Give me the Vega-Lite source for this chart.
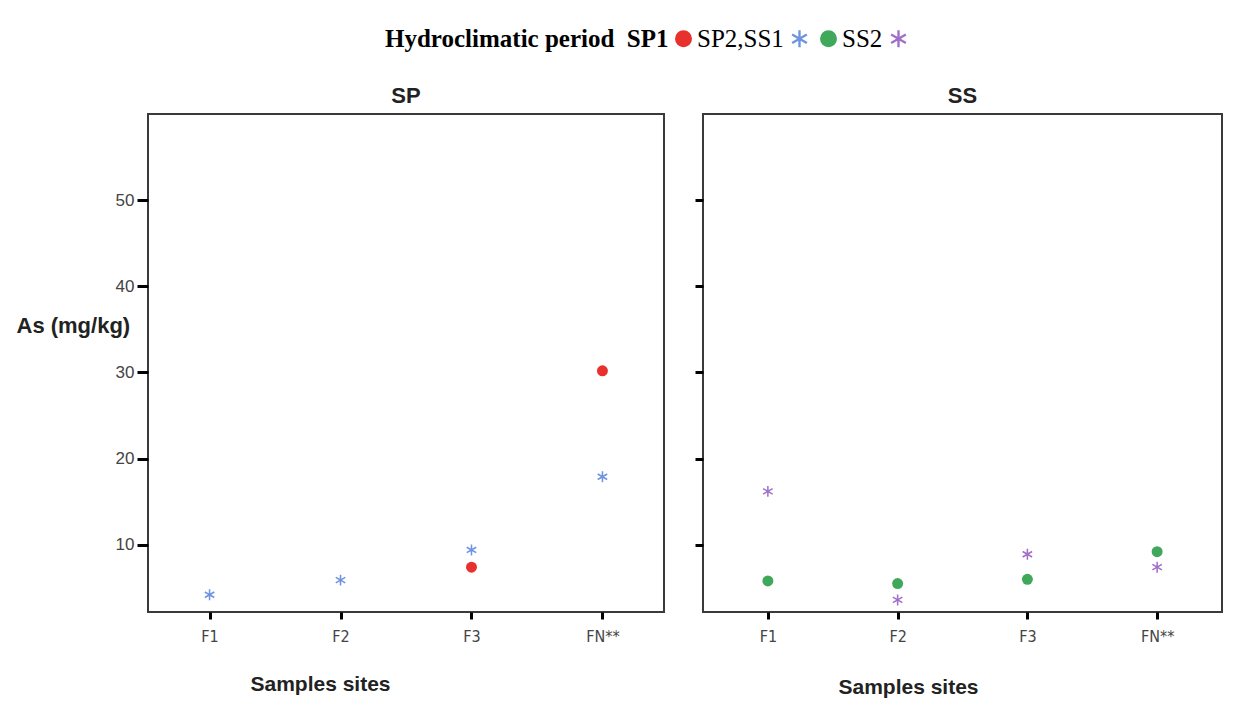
{
  "$schema": "https://vega.github.io/schema/vega-lite/v6.json",
  "background": "white",
  "padding": {"left": 15, "top": 26, "right": 5, "bottom": 5},
  "spacing": 27,
  "datasets": {
    "pts": [
      {"panel": "SP", "site": "F1", "series": "SP2", "value": 4.2},
      {"panel": "SP", "site": "F2", "series": "SP2", "value": 5.9},
      {"panel": "SP", "site": "F3", "series": "SP2", "value": 9.4},
      {"panel": "SP", "site": "F3", "series": "SP1", "value": 7.4},
      {"panel": "SP", "site": "FN**", "series": "SP2", "value": 17.9},
      {"panel": "SP", "site": "FN**", "series": "SP1", "value": 30.2},
      {"panel": "SS", "site": "F1", "series": "SS2", "value": 16.2},
      {"panel": "SS", "site": "F1", "series": "SS1", "value": 5.8},
      {"panel": "SS", "site": "F2", "series": "SS1", "value": 5.5},
      {"panel": "SS", "site": "F2", "series": "SS2", "value": 3.6},
      {"panel": "SS", "site": "F3", "series": "SS2", "value": 8.9},
      {"panel": "SS", "site": "F3", "series": "SS1", "value": 6.0},
      {"panel": "SS", "site": "FN**", "series": "SS1", "value": 9.2},
      {"panel": "SS", "site": "FN**", "series": "SS2", "value": 7.4}
    ]
  },
  "data": {"name": "pts"},
  "config": {
    "view": {"stroke": "#3a3a3a", "strokeWidth": 2},
    "title": {"font": "Liberation Sans", "fontSize": 22, "fontWeight": "bold", "color": "#222", "offset": 6},
    "axis": {
      "domain": false, "grid": false,
      "tickColor": "black", "tickWidth": 3,
      "labelColor": "#444", "labelFont": "Liberation Sans", "labelFontSize": 17,
      "titleFont": "Liberation Sans", "titleFontWeight": "bold", "titleFontSize": 21, "titleColor": "#222"
    },
    "legend": {
      "orient": "none", "legendX": 237, "legendY": -88, "direction": "horizontal",
      "titleOrient": "left", "titleLimit": 600,
      "titleFont": "Liberation Serif", "titleFontSize": 25, "titleFontWeight": "bold", "titleColor": "black", "titlePadding": 2,
      "labelFont": "Liberation Serif", "labelFontSize": 25, "labelColor": "black", "labelOffset": 1, "columnPadding": 3,
      "symbolSize": 289, "symbolStrokeWidth": 0
    }
  },
  "hconcat": [
    {
      "title": "SP",
      "width": 516,
      "height": 498,
      "transform": [{"filter": "datum.panel === 'SP'"}],
      "mark": {"type": "point", "filled": true, "opacity": 1, "size": 120},
      "encoding": {
        "x": {
          "field": "site", "type": "ordinal",
          "scale": {"type": "point", "domain": ["F1", "F2", "F3", "FN**"], "padding": 0.47},
          "axis": {"title": "Samples sites", "labelAngle": 0, "tickSize": 7, "labelPadding": 9, "labelFont": "DejaVu Sans Condensed", "labelFontSize": 16,
                   "titleX": 172, "titleY": 72, "titleAlign": "center", "titleBaseline": "middle"}
        },
        "y": {
          "field": "value", "type": "quantitative",
          "scale": {"domain": [2.2, 60], "nice": false, "zero": false},
          "axis": {"values": [10, 20, 30, 40, 50], "tickSize": 11, "labelPadding": 3, "title": "As (mg/kg)", "titleFontSize": 22,
                   "titleAngle": 0, "titleAlign": "left", "titleBaseline": "middle", "titleX": -132, "titleY": 211}
        },
        "color": {
          "field": "series", "type": "nominal",
          "scale": {"domain": ["SP1", "SP2", "SS1", "SS2"], "range": ["#e8302c", "#6f93e0", "#3fa85a", "#a070c8"]},
          "legend": {
            "title": "Hydroclimatic period\u00a0\u00a0SP1",
            "labelExpr": "datum.label === 'SP1' ? 'SP2,SS1' : datum.label === 'SS1' ? 'SS2' : ''"
          }
        },
        "shape": {
          "field": "series", "type": "nominal",
          "scale": {"domain": ["SP1", "SP2", "SS1", "SS2"], "range": [
            "circle",
            "M-0.14,1L0.14,1L0.14,-1L-0.14,-1Z M0.796,0.621L0.936,0.379L-0.796,-0.621L-0.936,-0.379Z M-0.936,0.379L-0.796,0.621L0.936,-0.379L0.796,-0.621Z",
            "circle",
            "M-0.14,1L0.14,1L0.14,-1L-0.14,-1Z M0.796,0.621L0.936,0.379L-0.796,-0.621L-0.936,-0.379Z M-0.936,0.379L-0.796,0.621L0.936,-0.379L0.796,-0.621Z"
          ]},
          "legend": {
            "title": "Hydroclimatic period\u00a0\u00a0SP1",
            "labelExpr": "datum.label === 'SP1' ? 'SP2,SS1' : datum.label === 'SS1' ? 'SS2' : ''"
          }
        }
      }
    },
    {
      "title": "SS",
      "width": 519,
      "height": 498,
      "transform": [{"filter": "datum.panel === 'SS'"}],
      "mark": {"type": "point", "filled": true, "opacity": 1, "size": 120},
      "encoding": {
        "x": {
          "field": "site", "type": "ordinal",
          "scale": {"type": "point", "domain": ["F1", "F2", "F3", "FN**"], "padding": 0.5},
          "axis": {"title": "Samples sites", "labelAngle": 0, "tickSize": 7, "labelPadding": 9, "labelFont": "DejaVu Sans Condensed", "labelFontSize": 16,
                   "titleX": 205, "titleY": 75, "titleAlign": "center", "titleBaseline": "middle"}
        },
        "y": {
          "field": "value", "type": "quantitative",
          "scale": {"domain": [2.2, 60], "nice": false, "zero": false},
          "axis": {"values": [10, 20, 30, 40, 50], "tickSize": 8, "labels": false, "title": null}
        },
        "color": {
          "field": "series", "type": "nominal",
          "scale": {"domain": ["SP1", "SP2", "SS1", "SS2"], "range": ["#e8302c", "#6f93e0", "#3fa85a", "#a070c8"]},
          "legend": {
            "title": "Hydroclimatic period\u00a0\u00a0SP1",
            "labelExpr": "datum.label === 'SP1' ? 'SP2,SS1' : datum.label === 'SS1' ? 'SS2' : ''"
          }
        },
        "shape": {
          "field": "series", "type": "nominal",
          "scale": {"domain": ["SP1", "SP2", "SS1", "SS2"], "range": [
            "circle",
            "M-0.14,1L0.14,1L0.14,-1L-0.14,-1Z M0.796,0.621L0.936,0.379L-0.796,-0.621L-0.936,-0.379Z M-0.936,0.379L-0.796,0.621L0.936,-0.379L0.796,-0.621Z",
            "circle",
            "M-0.14,1L0.14,1L0.14,-1L-0.14,-1Z M0.796,0.621L0.936,0.379L-0.796,-0.621L-0.936,-0.379Z M-0.936,0.379L-0.796,0.621L0.936,-0.379L0.796,-0.621Z"
          ]},
          "legend": {
            "title": "Hydroclimatic period\u00a0\u00a0SP1",
            "labelExpr": "datum.label === 'SP1' ? 'SP2,SS1' : datum.label === 'SS1' ? 'SS2' : ''"
          }
        }
      }
    }
  ]
}
